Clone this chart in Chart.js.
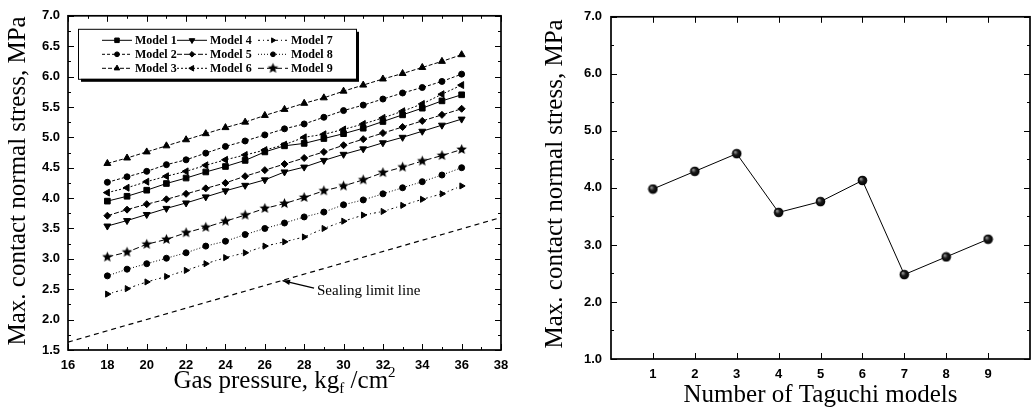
<!DOCTYPE html>
<html>
<head>
<meta charset="utf-8">
<script src="https://cdn.jsdelivr.net/npm/chart.js@4.4.1/dist/chart.umd.min.js"></script>
<style>
  html, body { margin: 0; padding: 0; background: #fff; }
  #wrap { position: relative; width: 1036px; height: 409px; overflow: hidden; }
  #leftChart { position: absolute; left: 0; top: 0; width: 520px; height: 409px; }
  #rightChart { position: absolute; left: 520px; top: 0; width: 516px; height: 409px; }
</style>
</head>
<body>
<div id="wrap">
  <canvas id="leftChart" width="520" height="409"></canvas>
  <canvas id="rightChart" width="516" height="409"></canvas>
</div>
<script>
// data
const pressure = [18, 19, 20, 21, 22, 23, 24, 25, 26, 27, 28, 29, 30, 31, 32, 33, 34, 35, 36];
const model1 = [3.95, 4.03, 4.13, 4.24, 4.33, 4.43, 4.52, 4.62, 4.76, 4.86, 4.90, 4.98, 5.06, 5.15, 5.26, 5.37, 5.48, 5.60, 5.70];
const model2 = [4.26, 4.35, 4.44, 4.55, 4.63, 4.74, 4.85, 4.94, 5.04, 5.14, 5.22, 5.33, 5.44, 5.53, 5.63, 5.73, 5.82, 5.92, 6.04];
const model3 = [4.57, 4.66, 4.76, 4.86, 4.96, 5.06, 5.16, 5.25, 5.36, 5.46, 5.56, 5.65, 5.76, 5.86, 5.96, 6.05, 6.15, 6.25, 6.36];
const model4 = [3.54, 3.63, 3.73, 3.83, 3.92, 4.02, 4.12, 4.21, 4.30, 4.43, 4.51, 4.62, 4.72, 4.81, 4.91, 5.00, 5.10, 5.20, 5.30];
const model5 = [3.71, 3.81, 3.90, 3.98, 4.07, 4.16, 4.25, 4.36, 4.46, 4.56, 4.66, 4.76, 4.87, 4.97, 5.07, 5.17, 5.27, 5.37, 5.47];
const model6 = [4.09, 4.17, 4.27, 4.36, 4.44, 4.54, 4.63, 4.71, 4.79, 4.88, 5.00, 5.05, 5.13, 5.22, 5.32, 5.43, 5.55, 5.71, 5.86];
const model7 = [2.42, 2.51, 2.62, 2.71, 2.81, 2.92, 3.02, 3.10, 3.21, 3.28, 3.36, 3.50, 3.62, 3.72, 3.78, 3.88, 3.98, 4.07, 4.20];
const model8 = [2.72, 2.83, 2.92, 3.01, 3.10, 3.21, 3.29, 3.40, 3.50, 3.59, 3.69, 3.77, 3.89, 3.97, 4.07, 4.17, 4.27, 4.38, 4.50];
const model9 = [3.03, 3.11, 3.24, 3.32, 3.43, 3.52, 3.62, 3.72, 3.83, 3.91, 4.01, 4.12, 4.20, 4.30, 4.42, 4.51, 4.61, 4.70, 4.80];
const modelNames = ['Model 1', 'Model 2', 'Model 3', 'Model 4', 'Model 5', 'Model 6', 'Model 7', 'Model 8', 'Model 9'];
const sealingPressure = [16, 38];
const sealingStress = [1.63, 3.68];

const modelNumbers = [1, 2, 3, 4, 5, 6, 7, 8, 9];
const taguchiStress = [3.98, 4.29, 4.60, 3.57, 3.76, 4.13, 2.48, 2.79, 3.10];

const pressureTicks = [16, 18, 20, 22, 24, 26, 28, 30, 32, 34, 36, 38];
const stressTicksLeft = [1.5, 2.0, 2.5, 3.0, 3.5, 4.0, 4.5, 5.0, 5.5, 6.0, 6.5, 7.0];
const stressTicksRight = [1.0, 2.0, 3.0, 4.0, 5.0, 6.0, 7.0];

const SERIF = '"Liberation Serif", "Times New Roman", serif';
const SANS = '"Liberation Sans", Arial, sans-serif';

// marker pictures
function makeStar(r) {
    const c = document.createElement('canvas');
    const s = Math.ceil(r * 2 + 2);
    c.width = s; c.height = s;
    const g = c.getContext('2d');
    g.fillStyle = '#000';
    g.beginPath();
    for (let i = 0; i < 10; i++) {
        const a = -Math.PI / 2 + i * Math.PI / 5;
        const rr = i % 2 === 0 ? r : r * 0.45;
        g.lineTo(s / 2 + rr * Math.cos(a), s / 2 + rr * Math.sin(a));
    }
    g.closePath();
    g.fill();
    return c;
}

function makeBall(r) {
    const c = document.createElement('canvas');
    const s = Math.ceil(r * 2 + 1);
    c.width = s; c.height = s;
    const g = c.getContext('2d');
    const grd = g.createRadialGradient(s / 2 - r * 0.35, s / 2 - r * 0.35, 0.3, s / 2, s / 2, r);
    grd.addColorStop(0, '#9a9a9a');
    grd.addColorStop(0.45, '#1a1a1a');
    grd.addColorStop(1, '#000');
    g.fillStyle = grd;
    g.beginPath();
    g.arc(s / 2, s / 2, r, 0, Math.PI * 2);
    g.fill();
    return c;
}

const starImg = makeStar(5.5);
const ballImg = makeBall(4.8);

// line / marker look of each model
const modelStyles = [
    { point: 'rect', rot: 0, r: 4, dash: [] },
    { point: 'circle', rot: 0, r: 3, dash: [3, 2] },
    { point: 'triangle', rot: 0, r: 4, dash: [4, 2] },
    { point: 'triangle', rot: 180, r: 4, dash: [] },
    { point: 'rectRot', rot: 0, r: 3.5, dash: [5, 2] },
    { point: 'triangle', rot: -90, r: 4, dash: [2, 2] },
    { point: 'triangle', rot: 90, r: 3.5, dash: [2, 3, 1, 3] },
    { point: 'circle', rot: 0, r: 3, dash: [1, 2] },
    { point: starImg, rot: 0, r: 5, dash: [6, 3] }
];

const modelSeries = [model1, model2, model3, model4, model5, model6, model7, model8, model9];

const leftDatasets = modelSeries.map((vals, i) => ({
    label: modelNames[i],
    data: pressure.map((p, k) => ({ x: p, y: vals[k] })),
    borderColor: '#000',
    backgroundColor: '#000',
    borderWidth: 1,
    borderDash: modelStyles[i].dash,
    pointStyle: modelStyles[i].point,
    pointRotation: modelStyles[i].rot,
    pointRadius: modelStyles[i].r,
    pointBorderWidth: 1,
    tension: 0,
    fill: false
}));

leftDatasets.push({
    label: 'Sealing limit line',
    data: sealingPressure.map((p, k) => ({ x: p, y: sealingStress[k] })),
    borderColor: '#000',
    borderWidth: 1.2,
    borderDash: [5, 4],
    pointRadius: 0,
    fill: false
});

// frame + inward ticks on all four sides
const frameTicks = {
    id: 'frameTicks',
    afterDatasetsDraw(chart, args, opts) {
        const { ctx, chartArea: a, scales: { x, y } } = chart;
        const mids = arr => arr.slice(1).map((v, i) => (v + arr[i]) / 2);
        ctx.save();
        ctx.strokeStyle = '#000';
        ctx.lineWidth = 1;
        ctx.setLineDash([]);
        ctx.beginPath();
        const xt = (v, len) => {
            const px = Math.round(x.getPixelForValue(v)) + 0.5;
            ctx.moveTo(px, a.bottom); ctx.lineTo(px, a.bottom - len);
            ctx.moveTo(px, a.top); ctx.lineTo(px, a.top + len);
        };
        const yt = (v, len) => {
            const py = Math.round(y.getPixelForValue(v)) + 0.5;
            ctx.moveTo(a.left, py); ctx.lineTo(a.left + len, py);
            ctx.moveTo(a.right, py); ctx.lineTo(a.right - len, py);
        };
        opts.xMajor.forEach(v => xt(v, 6));
        opts.yMajor.forEach(v => yt(v, 6));
        if (opts.xMinor) mids(opts.xMajor).forEach(v => xt(v, 3));
        if (opts.yMinor) mids(opts.yMajor).forEach(v => yt(v, 3));
        ctx.stroke();
        ctx.lineWidth = 1.7;
        ctx.strokeRect(a.left, a.top, a.right - a.left, a.bottom - a.top);
        ctx.restore();
    }
};

// axis titles (x title may have sub / superscripts)
const axisTitles = {
    id: 'axisTitles',
    afterDraw(chart, args, opts) {
        const { ctx, chartArea: a } = chart;
        ctx.save();
        ctx.fillStyle = '#000';
        ctx.font = opts.size + 'px ' + SERIF;
        ctx.save();
        ctx.translate(opts.yBase, (a.top + a.bottom) / 2 + opts.yShift);
        ctx.rotate(-Math.PI / 2);
        ctx.textAlign = 'center';
        ctx.textBaseline = 'alphabetic';
        ctx.fillText(opts.yText, 0, 0);
        ctx.restore();

        const parts = opts.xParts.map(p => {
            const sz = p.sub || p.sup ? Math.round(opts.size * 0.6) : opts.size;
            ctx.font = sz + 'px ' + SERIF;
            return { ...p, sz, w: ctx.measureText(p.t).width };
        });
        const total = parts.reduce((s, p) => s + p.w, 0);
        let px = (a.left + a.right) / 2 - total / 2;
        const base = a.bottom + opts.xBase;
        ctx.textAlign = 'left';
        ctx.textBaseline = 'alphabetic';
        parts.forEach(p => {
            ctx.font = p.sz + 'px ' + SERIF;
            let dy = 0;
            if (p.sub) dy = opts.size * 0.2;
            if (p.sup) dy = -opts.size * 0.45;
            ctx.fillText(p.t, px, base + dy);
            px += p.w;
        });
        ctx.restore();
    }
};

// boxed legend inside the plot
const boxLegend = {
    id: 'boxLegend',
    afterDraw(chart, args, opts) {
        if (!opts.show) return;
        const { ctx, chartArea: a } = chart;
        const bx = a.left + 10, by = a.top + 13, bw = 278, bh = 50;
        ctx.save();
        ctx.fillStyle = '#000';
        ctx.fillRect(bx + 3, by + 3, bw, bh);
        ctx.fillStyle = '#fff';
        ctx.fillRect(bx, by, bw, bh);
        ctx.strokeStyle = '#000';
        ctx.lineWidth = 1;
        ctx.strokeRect(bx + 0.5, by + 0.5, bw, bh);
        const colX = [24, 99, 180], rowY = [11, 25, 39];
        ctx.font = 'bold 12px ' + SERIF;
        ctx.textBaseline = 'middle';
        chart.data.datasets.slice(0, 9).forEach((ds, i) => {
            const x0 = bx + colX[Math.floor(i / 3)], y0 = by + rowY[i % 3];
            ctx.strokeStyle = '#000';
            ctx.fillStyle = '#000';
            ctx.lineWidth = 1;
            ctx.setLineDash(ds.borderDash);
            ctx.beginPath();
            ctx.moveTo(x0, y0 + 0.5); ctx.lineTo(x0 + 30, y0 + 0.5);
            ctx.stroke();
            ctx.setLineDash([]);
            Chart.helpers.drawPoint(ctx, {
                pointStyle: ds.pointStyle,
                radius: ds.pointRadius * 0.8,
                rotation: ds.pointRotation,
                borderWidth: 1
            }, x0 + 15, y0 + 0.5);
            ctx.fillStyle = '#000';
            ctx.fillText(ds.label, x0 + 33, y0 + 1);
        });
        ctx.restore();
    }
};

// arrow + label for the sealing limit line
const sealNote = {
    id: 'sealNote',
    afterDatasetsDraw(chart, args, opts) {
        if (!opts.text) return;
        const { ctx, scales: { x, y } } = chart;
        const tx = x.getPixelForValue(opts.tip[0]), ty = y.getPixelForValue(opts.tip[1]);
        const sx = x.getPixelForValue(opts.tail[0]), sy = y.getPixelForValue(opts.tail[1]);
        const ang = Math.atan2(ty - sy, tx - sx);
        ctx.save();
        ctx.strokeStyle = '#000';
        ctx.fillStyle = '#000';
        ctx.lineWidth = 1.3;
        ctx.setLineDash([]);
        ctx.beginPath();
        ctx.moveTo(sx, sy); ctx.lineTo(tx, ty);
        ctx.stroke();
        ctx.beginPath();
        ctx.moveTo(tx, ty);
        ctx.lineTo(tx - 8 * Math.cos(ang - 0.35), ty - 8 * Math.sin(ang - 0.35));
        ctx.lineTo(tx - 8 * Math.cos(ang + 0.35), ty - 8 * Math.sin(ang + 0.35));
        ctx.closePath();
        ctx.fill();
        ctx.font = '15px ' + SERIF;
        ctx.textBaseline = 'alphabetic';
        ctx.fillText(opts.text, x.getPixelForValue(opts.at[0]), y.getPixelForValue(opts.at[1]));
        ctx.restore();
    }
};

const tickFont = { family: SANS, size: 13, weight: 'bold' };

new Chart(document.getElementById('leftChart').getContext('2d'), {
    type: 'line',
    data: { datasets: leftDatasets },
    plugins: [frameTicks, axisTitles, boxLegend, sealNote],
    options: {
        responsive: false,
        animation: false,
        events: [],
        layout: { padding: { left: 0, top: 15, right: 19, bottom: 0 } },
        scales: {
            x: {
                type: 'linear', min: 16, max: 38,
                afterBuildTicks: s => { s.ticks = pressureTicks.map(v => ({ value: v })); },
                afterFit: s => { s.height = 59; },
                ticks: { autoSkip: false, maxRotation: 0, padding: 8, color: '#000', font: tickFont },
                grid: { display: false, drawTicks: false },
                border: { display: false }
            },
            y: {
                type: 'linear', min: 1.5, max: 7.0,
                afterBuildTicks: s => { s.ticks = stressTicksLeft.map(v => ({ value: v })); },
                afterFit: s => { s.width = 68; },
                ticks: { padding: 8, color: '#000', font: tickFont, callback: v => Number(v).toFixed(1) },
                grid: { display: false, drawTicks: false },
                border: { display: false }
            }
        },
        plugins: {
            legend: { display: false },
            tooltip: { enabled: false },
            frameTicks: { xMajor: pressureTicks, yMajor: stressTicksLeft, xMinor: true, yMinor: true },
            axisTitles: {
                size: 25,
                yText: 'Max. contact normal stress, MPa', yBase: 25, yShift: -2,
                xParts: [{ t: 'Gas pressure, kg' }, { t: 'f', sub: true }, { t: ' /cm' }, { t: '2', sup: true }],
                xBase: 38
            },
            boxLegend: { show: true },
            sealNote: { text: 'Sealing limit line', tip: [26.9, 2.64], tail: [28.5, 2.52], at: [28.65, 2.40] }
        }
    }
});

new Chart(document.getElementById('rightChart').getContext('2d'), {
    type: 'line',
    data: {
        datasets: [{
            label: 'Max. contact normal stress',
            data: modelNumbers.map((m, k) => ({ x: m, y: taguchiStress[k] })),
            borderColor: '#000',
            backgroundColor: '#000',
            borderWidth: 1,
            pointStyle: ballImg,
            pointRadius: 5,
            tension: 0,
            fill: false
        }]
    },
    plugins: [frameTicks, axisTitles],
    options: {
        responsive: false,
        animation: false,
        events: [],
        layout: { padding: { left: 0, top: 15, right: 2, bottom: 0 } },
        scales: {
            x: {
                type: 'linear', min: 0, max: 10,
                afterBuildTicks: s => { s.ticks = modelNumbers.map(v => ({ value: v })); },
                afterFit: s => { s.height = 50; },
                ticks: { autoSkip: false, maxRotation: 0, padding: 8, color: '#000', font: tickFont },
                grid: { display: false, drawTicks: false },
                border: { display: false }
            },
            y: {
                type: 'linear', min: 1.0, max: 7.0,
                afterBuildTicks: s => { s.ticks = stressTicksRight.map(v => ({ value: v })); },
                afterFit: s => { s.width = 91; },
                ticks: { padding: 9, color: '#000', font: tickFont, callback: v => Number(v).toFixed(1) },
                grid: { display: false, drawTicks: false },
                border: { display: false }
            }
        },
        plugins: {
            legend: { display: false },
            tooltip: { enabled: false },
            frameTicks: { xMajor: modelNumbers, yMajor: stressTicksRight, xMinor: false, yMinor: true },
            axisTitles: {
                size: 25,
                yText: 'Max. contact normal stress, MPa', yBase: 42, yShift: -4,
                xParts: [{ t: 'Number of Taguchi models' }],
                xBase: 43
            }
        }
    }
});
</script>
</body>
</html>
